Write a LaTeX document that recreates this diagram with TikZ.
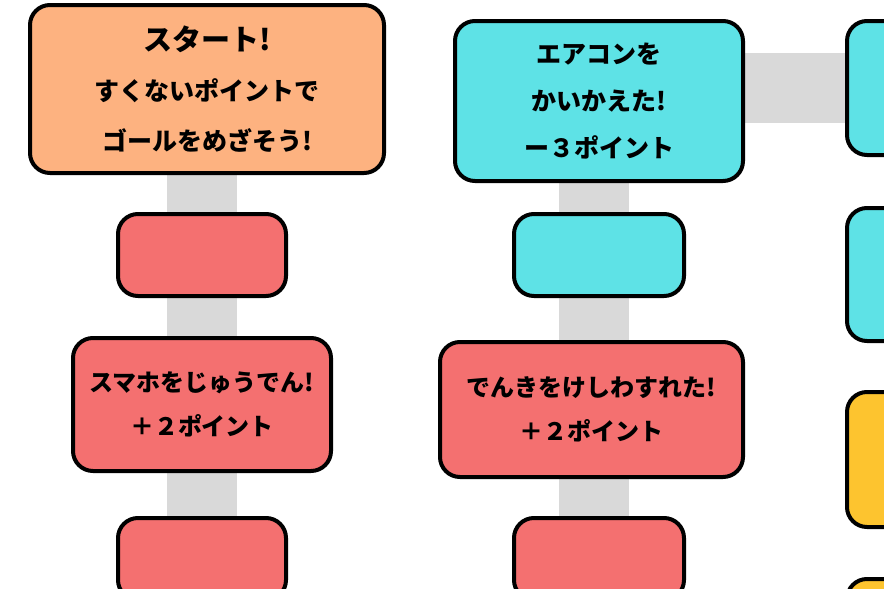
\documentclass[tikz,border=0pt]{standalone}
\usepackage{fontspec}
\newfontfamily\jpfont{Noto Sans CJK JP}
\usepackage{tikz}
\usetikzlibrary{positioning,backgrounds}

\definecolor{peach}{RGB}{253,178,128}
\definecolor{salmon}{RGB}{244,112,112}
\definecolor{aqua}{RGB}{94,226,230}
\definecolor{sun}{RGB}{253,196,47}
\definecolor{linkgray}{RGB}{217,217,217}

\begin{document}
\begin{tikzpicture}[x=1pt,y=-1pt,
		square/.style={draw=black,line width=4pt,rounded corners=20pt,inner sep=0pt,outer sep=0pt,align=center,
			font=\jpfont\bfseries\fontsize{24}{44}\selectfont},
		link/.style={draw=linkgray,line width=70pt}]
		
		\useasboundingbox (0,0) rectangle (884,589);
		\clip (0,0) rectangle (884,589);
		
		% first column
		\node[square,fill=peach,minimum width=354pt,minimum height=168pt,
			font=\jpfont\bfseries\fontsize{25}{50}\selectfont] (start) at (207,89)
		{{\fontsize{29}{50}\selectfont スタート!}\\すくないポイントで\\ゴールをめざそう!};
		\node[square,fill=salmon,minimum width=168pt,minimum height=82pt] (r1) at (202,255) {};
		\node[square,fill=salmon,minimum width=258pt,minimum height=133pt] (r2) at (202,404.5)
		{スマホをじゅうでん!\\＋２ポイント};
		\node[square,fill=salmon,minimum width=168pt,minimum height=82pt] (r3) at (202,559) {};
		
		% second column
		\node[square,fill=aqua,minimum width=288pt,minimum height=160pt,
			font=\jpfont\bfseries\fontsize{25}{47}\selectfont] (c1) at (599,101)
		{エアコンを\\かいかえた!\\ー３ポイント};
		\node[square,fill=aqua,minimum width=170pt,minimum height=82pt] (c2) at (599,255) {};
		\node[square,fill=salmon,minimum width=303pt,minimum height=135pt] (r4) at (591.5,409.5)
		{でんきをけしわすれた!\\＋２ポイント};
		\node[square,fill=salmon,minimum width=170pt,minimum height=82pt] (r5) at (599,559) {};
		
		% third column
		\node[square,fill=aqua,minimum width=288pt,minimum height=134pt] (d1) at (991,88) {};
		\node[square,fill=aqua,minimum width=288pt,minimum height=133pt] (d2) at (991,274.5) {};
		\node[square,fill=sun,minimum width=288pt,minimum height=135pt] (y1) at (991,459.5) {};
		\node[square,fill=sun,minimum width=288pt,minimum height=135pt] (y2) at (991,646.5) {};
		
		\begin{scope}[on background layer]
			\draw[link] (r1.center) -- (r1.center |- start.center);
			\draw[link] (r1.center) -- (r1.center |- r2.center);
			\draw[link] (r3.center) -- (r3.center |- r2.center);
			\draw[link] ([xshift=-5pt]c2.center) -- ([xshift=-5pt]c2.center |- c1.center);
			\draw[link] ([xshift=-5pt]c2.center) -- ([xshift=-5pt]c2.center |- r4.center);
			\draw[link] ([xshift=-5pt]r5.center) -- ([xshift=-5pt]r5.center |- r4.center);
			\draw[link] (d1.center) -- (d1.center -| c1.center);
		\end{scope}
		
	\end{tikzpicture}
\end{document}
